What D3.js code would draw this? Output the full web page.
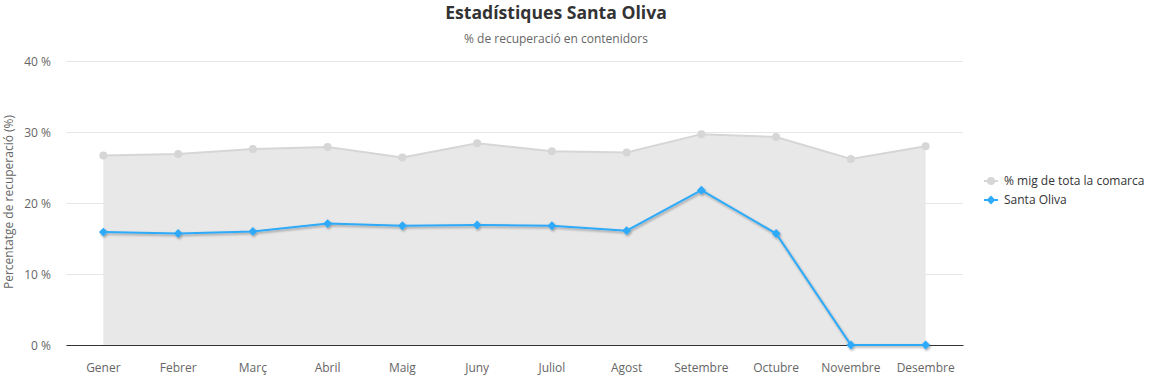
<!DOCTYPE html>
<html>
<head>
<meta charset="utf-8">
<script src="https://cdn.jsdelivr.net/npm/d3@7"></script>
<style>
  body { margin: 0; background: #fff; }
  text { font-family: "Open Sans", "Noto Sans", sans-serif; }
</style>
</head>
<body>
<div id="chart"></div>
<script>
// months on the x axis
var months = ["Gener", "Febrer", "Març", "Abril", "Maig", "Juny", "Juliol", "Agost", "Setembre", "Octubre", "Novembre", "Desembre"];
// average of the whole comarca (grey area)
var comarca = [26.7, 26.9, 27.6, 27.9, 26.4, 28.4, 27.3, 27.1, 29.7, 29.3, 26.2, 28.0];
// Santa Oliva (blue line)
var santaOliva = [15.9, 15.7, 16.0, 17.1, 16.8, 16.9, 16.8, 16.1, 21.8, 15.7, 0, 0];
var yTicks = [0, 10, 20, 30, 40];
var seriesNames = ["% mig de tota la comarca", "Santa Oliva"];

var W = 1156, H = 377;
var margin = {top: 61, right: 193, bottom: 32, left: 66},
    width = W - margin.left - margin.right,
    height = H - margin.top - margin.bottom;

var root = d3.select("#chart").append("svg")
    .attr("width", W)
    .attr("height", H);

var defs = root.append("defs");
var f = defs.append("filter").attr("id", "shadow")
    .attr("x", "-10%").attr("y", "-10%").attr("width", "120%").attr("height", "130%");
f.append("feDropShadow")
    .attr("dx", 1).attr("dy", 1.5).attr("stdDeviation", 1.2)
    .attr("flood-color", "#000").attr("flood-opacity", 0.35);

// title + subtitle
root.append("text")
    .attr("x", 556).attr("y", 19)
    .attr("text-anchor", "middle")
    .style("font-size", "17.6px").style("font-weight", "bold").style("fill", "#333")
    .text("Estadístiques Santa Oliva");
root.append("text")
    .attr("x", 556).attr("y", 43)
    .attr("text-anchor", "middle")
    .style("font-size", "12px").style("fill", "#666")
    .text("% de recuperació en contenidors");

var svg = root.append("g")
    .attr("transform", "translate(" + margin.left + "," + margin.top + ")");

// X scale
var x = d3.scaleBand()
  .domain(months)
  .range([0, width]);
var cx = function(i) { return x(months[i]) + x.bandwidth() / 2; };

// Y scale
var y = d3.scaleLinear()
  .domain([0, 40])
  .range([height, 0]);

// grid lines
svg.append("g")
  .call(d3.axisLeft(y).tickValues(yTicks).tickSize(-width).tickFormat(function(d) { return d + " %"; }))
  .call(function(g) {
    g.select(".domain").remove();
    g.selectAll(".tick line").attr("stroke", "#e6e6e6");
    g.selectAll(".tick text").attr("x", -15).attr("dy", "0.35em")
      .style("font-size", "12px").style("fill", "#666");
  });

// y axis title
svg.append("text")
    .attr("transform", "translate(" + (-53) + "," + (height / 2 - 1) + ") rotate(-90)")
    .attr("text-anchor", "middle")
    .style("font-size", "12px").style("fill", "#666")
    .text("Percentatge de recuperació (%)");

// grey area
var area = d3.area()
  .x(function(d, i) { return cx(i); })
  .y0(y(0))
  .y1(function(d) { return y(d); });
svg.append("path")
  .datum(comarca)
  .attr("d", area)
  .attr("fill", "#e8e8e8");

var line = d3.line()
  .x(function(d, i) { return cx(i); })
  .y(function(d) { return y(d); });

svg.append("path")
  .datum(comarca)
  .attr("d", line)
  .attr("fill", "none")
  .attr("stroke", "#d6d6d6")
  .attr("stroke-width", 2);

svg.selectAll(".dotc")
  .data(comarca)
  .enter()
  .append("circle")
    .attr("cx", function(d, i) { return cx(i); })
    .attr("cy", function(d) { return y(d); })
    .attr("r", 4)
    .attr("fill", "#d6d6d6");

// x axis
svg.append("g")
  .attr("transform", "translate(0," + height + ")")
  .call(d3.axisBottom(x).tickSize(0))
  .call(function(g) {
    g.select(".domain").attr("stroke", "#333");
    g.selectAll(".tick text").attr("y", 18)
      .style("font-size", "12px").style("fill", "#666");
  });

// blue line with shadow
var blue = "#2eaaf8";
var gb = svg.append("g").attr("filter", "url(#shadow)");
gb.append("path")
  .datum(santaOliva)
  .attr("d", line)
  .attr("fill", "none")
  .attr("stroke", blue)
  .attr("stroke-width", 2);

var diamond = d3.symbol().type(d3.symbolDiamond2).size(50);
gb.selectAll(".dots")
  .data(santaOliva)
  .enter()
  .append("path")
    .attr("d", diamond)
    .attr("transform", function(d, i) { return "translate(" + cx(i) + "," + y(d) + ")"; })
    .attr("fill", blue);

// legend
var lg = root.append("g").attr("transform", "translate(984,181)");
var legColors = ["#d6d6d6", blue];
seriesNames.forEach(function(name, i) {
  var row = lg.append("g").attr("transform", "translate(0," + (i * 19) + ")");
  row.append("line").attr("x1", 0).attr("x2", 14).attr("y1", 0).attr("y2", 0)
    .attr("stroke", legColors[i]).attr("stroke-width", 2);
  if (i === 0) {
    row.append("circle").attr("cx", 7).attr("cy", 0).attr("r", 4).attr("fill", legColors[i]);
  } else {
    row.append("path").attr("d", diamond).attr("transform", "translate(7,0)").attr("fill", legColors[i]);
  }
  row.append("text").attr("x", 20).attr("y", 0).attr("dy", "0.35em")
    .style("font-size", "12px").style("fill", "#333")
    .text(name);
});
</script>
</body>
</html>
